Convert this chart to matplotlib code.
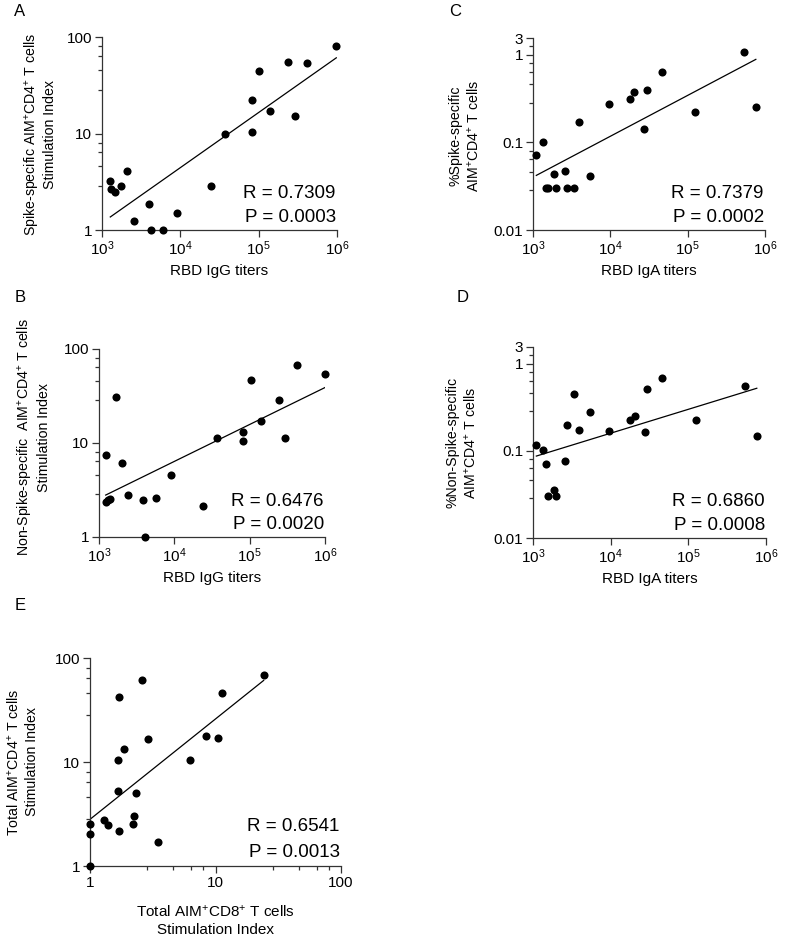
import numpy as np
import matplotlib
matplotlib.use("Agg")
import matplotlib.pyplot as plt
from matplotlib.ticker import FixedLocator, NullFormatter

plt.rcParams['font.family'] = ['Liberation Sans', 'DejaVu Sans']
plt.rcParams['mathtext.fontset'] = 'custom'
plt.rcParams['mathtext.rm'] = 'Liberation Sans'
plt.rcParams['mathtext.it'] = 'Liberation Sans'
plt.rcParams['mathtext.default'] = 'regular'

# ---------------- data ----------------
# Panel A: RBD IgG titers vs spike-specific AIM+CD4+ SI
igg_a = [1276, 1315, 1478, 1745, 2080, 2553, 3999, 4245, 5973, 9180,
         24380, 37130, 81100, 81100, 101600, 139000, 240000, 289000, 415000, 980000]
si_spike = [3.21, 2.64, 2.49, 2.85, 4.11, 1.25, 1.86, 1.0, 1.0, 1.51,
            2.85, 9.84, 22.1, 10.4, 44.1, 17.0, 55.1, 15.2, 53.8, 80.7]
# Panel B: RBD IgG titers vs non-spike-specific AIM+CD4+ SI
igg_b = [1227, 1251, 1318, 1400, 1666, 2024, 2455, 3882, 4130, 5783, 8970,
         24100, 36990, 81200, 81200, 102600, 140900, 242000, 294000, 420000, 1000000]
si_nonspike = [7.45, 2.36, 2.46, 2.55, 30.5, 6.07, 2.83, 2.46, 1.0, 2.63, 4.55,
               2.13, 11.2, 13.2, 10.5, 46.7, 17.0, 28.8, 11.4, 68.0, 54.1]
# Panels C/D: RBD IgA titers
iga = [1104, 1350, 1485, 1578, 1866, 2000, 2613, 2718, 3412, 3960,
       5490, 9660, 17950, 20300, 27500, 29600, 46000, 124900, 533000, 761000]
pct_spike = [0.072, 0.1015, 0.030, 0.030, 0.044, 0.030, 0.047, 0.030, 0.030, 0.170,
             0.041, 0.273, 0.314, 0.378, 0.141, 0.394, 0.64, 0.223, 1.07, 0.255]
pct_nonspike = [0.117, 0.102, 0.0707, 0.030, 0.0358, 0.030, 0.0764, 0.200, 0.445, 0.172,
                0.281, 0.170, 0.228, 0.253, 0.163, 0.512, 0.69, 0.226, 0.56, 0.147]
# Panel E: total AIM+CD8+ SI vs total AIM+CD4+ SI
si_cd8 = [1.0, 1.0, 1.0, 1.285, 1.38, 1.66, 1.68, 1.70, 1.70, 1.87, 2.22,
          2.26, 2.33, 2.62, 2.89, 3.47, 6.31, 8.43, 10.4, 11.3, 24.2]
si_cd4 = [1.0, 2.03, 2.52, 2.75, 2.48, 10.5, 5.32, 2.16, 42.4, 13.3, 2.52,
          3.03, 5.08, 61.4, 16.7, 1.69, 10.5, 17.9, 17.0, 45.7, 68.1]

stats = {
    'A': ("R = 0.7309", "P = 0.0003"),
    'B': ("R = 0.6476", "P = 0.0020"),
    'C': ("R = 0.7379", "P = 0.0002"),
    'D': ("R = 0.6860", "P = 0.0008"),
    'E': ("R = 0.6541", "P = 0.0013"),
}

W, H = 785, 936
fig = plt.figure(figsize=(W / 100, H / 100), dpi=100)


def box(x0, y0, x1, y1):
    return [x0 / W, 1 - y1 / H, (x1 - x0) / W, (y1 - y0) / H]


TICK_FS = 11
XLAB_FS = 11
YLAB_FS = 10.2
STAT_FS = 13.5


def style(ax):
    for s in ('top', 'right'):
        ax.spines[s].set_visible(False)
    for s in ('left', 'bottom'):
        ax.spines[s].set_linewidth(0.9)
        ax.spines[s].set_color('#333333')
    ax.tick_params(which='major', length=5, width=0.9, color='#333333',
                   labelsize=TICK_FS, pad=2)
    ax.tick_params(which='minor', length=3, width=0.9, color='#333333')


def panel(rect, x, y, xlim, ylim, xlabel, ylabel, key, xticks, xticklabels,
          yticks, yticklabels, yminor, ylab_xy, ylab_ls, xminor=None, xlab_y=None):
    ax = fig.add_axes(rect)
    ax.set_xscale('log')
    ax.set_yscale('log')
    ax.set_xlim(*xlim)
    ax.set_ylim(*ylim)
    ax.scatter(x, y, s=34, color='black', zorder=3, clip_on=False, linewidths=0)
    lx, ly = np.log10(x), np.log10(y)
    m, b = np.polyfit(lx, ly, 1)
    xx = np.array([lx.min(), lx.max()])
    ax.plot(10 ** xx, 10 ** (m * xx + b), color='black', lw=0.9, zorder=2)
    style(ax)
    ax.xaxis.set_major_locator(FixedLocator(xticks))
    ax.set_xticklabels(xticklabels)
    ax.yaxis.set_major_locator(FixedLocator(yticks))
    ax.set_yticklabels(yticklabels)
    ax.yaxis.set_minor_locator(FixedLocator(yminor))
    ax.yaxis.set_minor_formatter(NullFormatter())
    if xminor is not None:
        ax.xaxis.set_minor_locator(FixedLocator(xminor))
    else:
        ax.xaxis.set_minor_locator(FixedLocator([]))
    ax.xaxis.set_minor_formatter(NullFormatter())
    ax.set_xlabel(xlabel, fontsize=XLAB_FS, linespacing=1.3)
    if xlab_y is not None:
        ax.xaxis.set_label_coords(0.5, xlab_y)
        ax.xaxis.label.set_va('center')
    ax.set_ylabel(ylabel, fontsize=YLAB_FS, linespacing=ylab_ls)
    ax.yaxis.set_label_coords(*ylab_xy)
    ax.yaxis.label.set_va('center')
    r, p = stats[key]
    ax.text(0.995, 0.19, r, transform=ax.transAxes, ha='right', va='center',
            fontsize=STAT_FS)
    ax.text(0.995, 0.065, p, transform=ax.transAxes, ha='right', va='center',
            fontsize=STAT_FS)
    return ax


subs = np.array([2.85, 4.6, 6.4, 8.0])
pow_ticks = [1e3, 1e4, 1e5, 1e6]
pow_labels = ['$10^3$', '$10^4$', '$10^5$', '$10^6$']
si_minor = list(subs) + list(subs * 10)
pct_minor = list(subs * 0.01) + list(subs * 0.1) + [1.25]
TOP = 1.56  # position of the top "3" label on the percent axes

panel(box(102, 37, 337, 230), np.array(igg_a), np.array(si_spike),
      (1e3, 1e6), (1, 100), 'RBD IgG titers',
      'Spike-specific AIM$^{+}$CD4$^{+}$ T cells\nStimulation Index', 'A',
      pow_ticks, pow_labels, [1, 10, 100], ['1', '10', '100'], si_minor,
      (-0.262, 0.497), 1.1)

panel(box(99, 349, 325, 537), np.array(igg_b), np.array(si_nonspike),
      (1e3, 1e6), (1, 100), 'RBD IgG titers',
      'Non-Spike-specific  AIM$^{+}$CD4$^{+}$ T cells\nStimulation Index', 'B',
      pow_ticks, pow_labels, [1, 10, 100], ['1', '10', '100'], si_minor,
      (-0.29, 0.53), 1.2)

panel(box(533, 38, 765, 230), np.array(iga), np.array(pct_spike),
      (1e3, 1e6), (0.01, TOP), 'RBD IgA titers',
      '%Spike-specific\nAIM$^{+}$CD4$^{+}$ T cells', 'C',
      pow_ticks, pow_labels, [0.01, 0.1, 1, TOP], ['0.01', '0.1', '1', '3'],
      pct_minor, (-0.293, 0.49), 1.2)

panel(box(533, 347, 766, 538), np.array(iga), np.array(pct_nonspike),
      (1e3, 1e6), (0.01, TOP), 'RBD IgA titers',
      '%Non-Spike-specific\nAIM$^{+}$CD4$^{+}$ T cells', 'D',
      pow_ticks, pow_labels, [0.01, 0.1, 1, TOP], ['0.01', '0.1', '1', '3'],
      pct_minor, (-0.305, 0.50), 1.25)

panel(box(90, 658, 341, 866), np.array(si_cd8), np.array(si_cd4),
      (1, 100), (1, 100),
      'Total AIM$^{+}$CD8$^{+}$ T cells\nStimulation Index',
      'Total AIM$^{+}$CD4$^{+}$ T cells\nStimulation Index', 'E',
      [1, 10, 100], ['1', '10', '100'], [1, 10, 100], ['1', '10', '100'],
      si_minor, (-0.269, 0.5), 1.3, xminor=si_minor, xlab_y=-0.26)

# panel letters
for lab, px, py in [('A', 20, 12), ('C', 455, 12), ('B', 20, 298),
                    ('D', 463, 298), ('E', 20, 606)]:
    fig.text(px / W, 1 - py / H, lab, fontsize=12, ha='center', va='center')

fig.savefig('out.png', dpi=100)
